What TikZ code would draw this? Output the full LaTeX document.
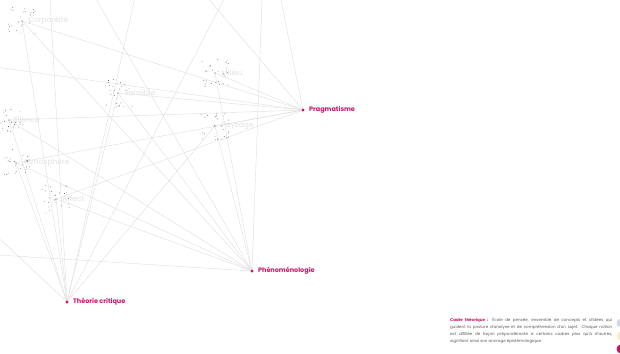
\documentclass[tikz,border=0pt]{standalone}
\usepackage{fontspec}
\setmainfont{Poppins}
\usepackage{tikz}
\usetikzlibrary{positioning}
\usetikzlibrary{calc}
\usetikzlibrary{backgrounds}
\definecolor{theorie}{RGB}{196,22,104}
\definecolor{lien}{RGB}{224,224,224}
\definecolor{notiontxt}{RGB}{226,226,226}
\definecolor{pastille1}{RGB}{214,214,234}
\definecolor{pastille2}{RGB}{249,238,186}
\tikzset{
 cadre/.style={circle,fill=theorie,inner sep=0pt,minimum size=3.4bp},
 cadrelabel/.style={text=theorie,font=\fontsize{6.5}{8}\selectfont\bfseries,inner sep=0pt,anchor=west},
 notion/.style={circle,fill=gray!55,inner sep=0pt,minimum size=2bp},
 notionlabel/.style={text=notiontxt,font=\fontsize{7.5}{8}\selectfont,inner sep=0pt,anchor=west},
 lien/.style={draw=lien,line width=0.45bp},
}
\begin{document}
\begin{tikzpicture}[x=1bp,y=-1bp]
\useasboundingbox (0,0) rectangle (620,353);
% cadres theoriques
\node[cadre] (prag) at (303,110) {};
\node[cadre] (phen) at (252,271) {};
\node[cadre] (crit) at (67,302) {};
\node[cadrelabel,right=4bp of prag] {Pragmatisme};
\node[cadrelabel,right=4bp of phen] {Phénoménologie};
\node[cadrelabel,right=4bp of crit] {Théorie critique};
% notions
\node[notion] (cor) at (22,21) {};
\node[notion] (sen) at (118,93) {};
\node[notion] (mil) at (215,73) {};
\node[notion] (pay) at (215,126) {};
\node[notion] (sil) at (9,120) {};
\node[notion] (atm) at (16,163) {};
\node[notion] (aff) at (56,199) {};
\node[notionlabel,right=5bp of cor] {Corporéité};
\node[notionlabel,right=5bp of sen] {Sensible};
\node[notionlabel,right=5bp of mil] {Milieu};
\node[notionlabel,right=5bp of pay] {Paysage};
\node[notionlabel,right=3bp of sil] {Silence};
\node[notionlabel,right=6bp of atm] {Atmosphère};
\node[notionlabel,right=5bp of aff] {Affect};
% notions hors cadre
\coordinate (o1) at (45,-90);
\coordinate (o2) at (150,-70);
\coordinate (o3) at (265,-80);
\coordinate (o4) at (-90,55);
\coordinate (o5) at (-95,150);
\coordinate (o6) at (-80,250);
\begin{scope}[on background layer]
\clip (0,0) rectangle (620,353);
\foreach \a/\b in {prag/cor,prag/sen,prag/mil,prag/pay,prag/sil,prag/atm,prag/aff,prag/o2,prag/o3,prag/o4,
 phen/cor,phen/sen,phen/mil,phen/pay,phen/atm,phen/aff,phen/sil,phen/o1,phen/o3,phen/o6,
 crit/cor,crit/sen,crit/pay,crit/atm,crit/aff,crit/sil,crit/o1,crit/o2,crit/o3,crit/o5}
 \draw[lien] (\a) -- (\b);
\end{scope}
% nuages de points
\pgfmathsetseed{17}
\foreach \n in {cor,sen,mil,pay,sil,atm,aff}{
 \foreach \i in {1,...,26}{
  \pgfmathsetmacro{\dx}{rand*14}
  \pgfmathsetmacro{\dy}{rand*14}
  \pgfmathsetmacro{\g}{35+rnd*40}
  \fill[black!\g] ($(\n)+(\dx,\dy)$) circle (0.45bp);
 }
}
% legende
\node[anchor=north west,text width=162bp,align=justify,inner sep=0pt,
 font=\fontsize{4.05}{7}\selectfont,text=black!65] (legende) at (450,318)
 {\hyphenpenalty=10000 \textcolor{theorie}{\bfseries Cadre théorique :} École de pensée, ensemble de concepts et d'idées qui\linebreak guident la posture d'analyse et de compréhension d'un sujet. Chaque notion\linebreak est affiliée de façon prépondérante à certains cadres plus qu'à d'autres,\linebreak signifiant ainsi son ancrage épistémologique.};
\fill[pastille1] (621,323) circle (4.5bp);
\fill[pastille2] (621,336) circle (4.5bp);
\fill[theorie] (621,349) circle (4.5bp);
\end{tikzpicture}
\end{document}
